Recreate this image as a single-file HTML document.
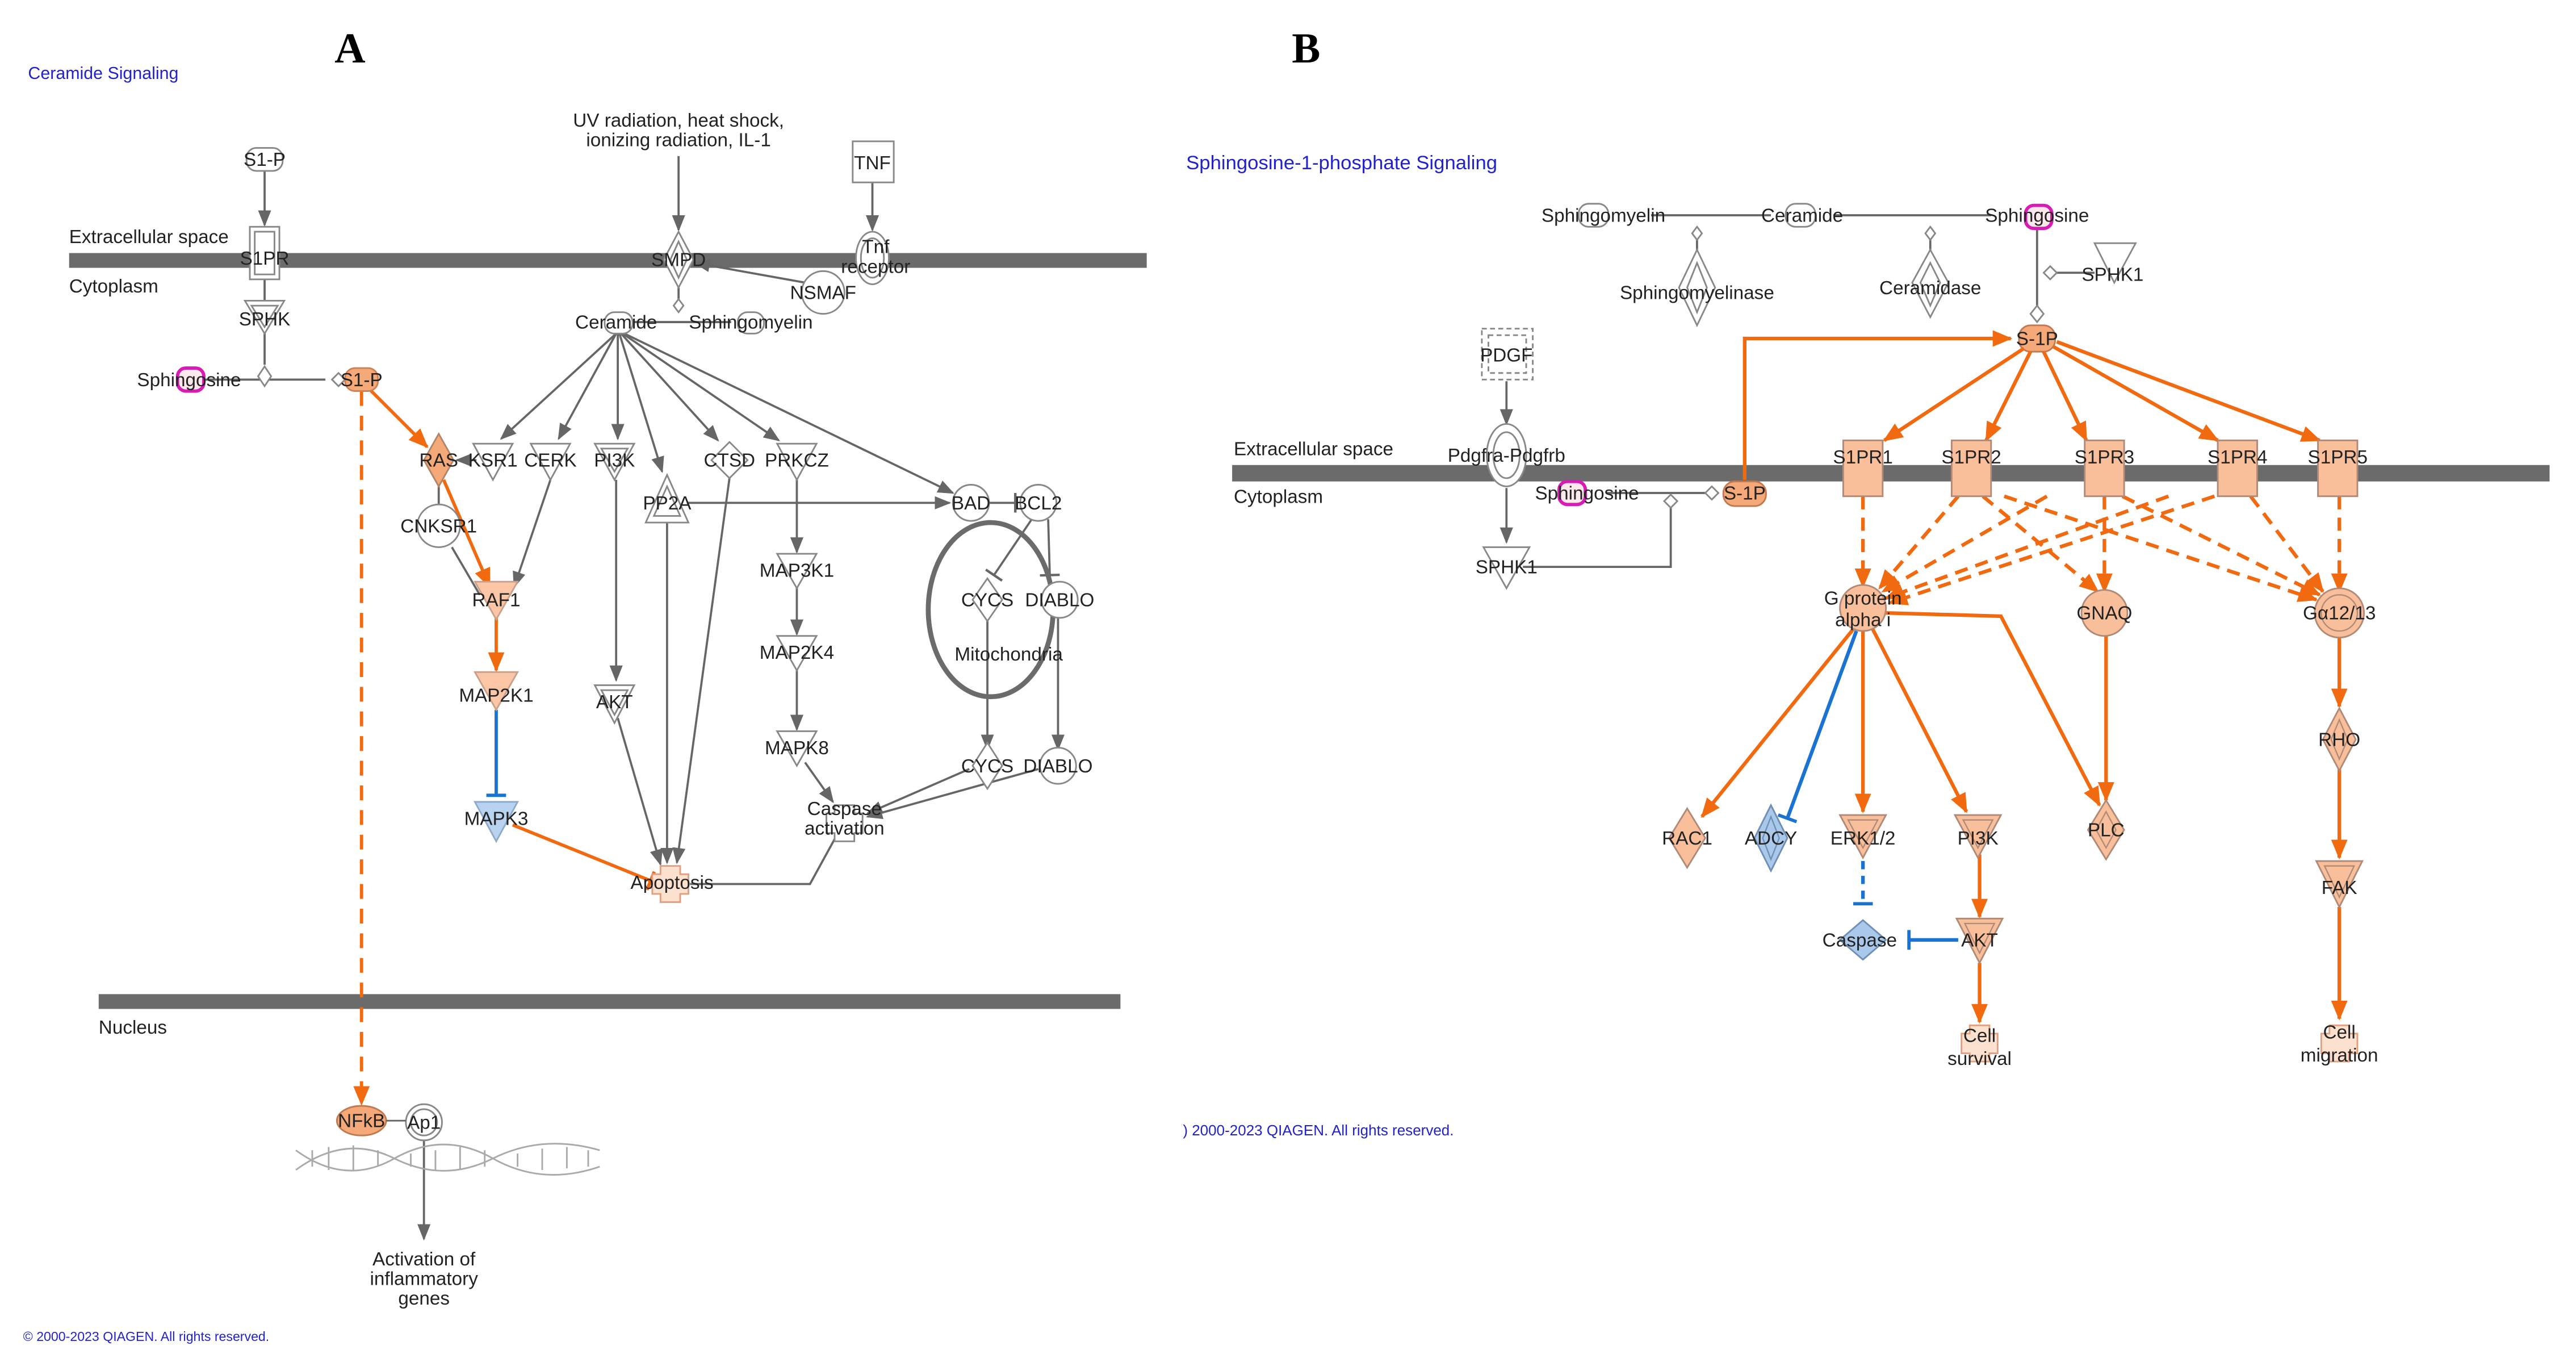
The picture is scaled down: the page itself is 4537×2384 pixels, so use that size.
<!DOCTYPE html>
<html><head><meta charset="utf-8"><style>
html,body{margin:0;padding:0;background:#fff;}
svg{display:block;}
text{font-family:"Liberation Sans",Arial,sans-serif;font-size:11.5px;fill:#222;text-anchor:middle;}
</style></head><body>
<svg width="4537" height="2384" viewBox="0 0 1568 824" xmlns="http://www.w3.org/2000/svg">
<defs>
<marker id="ag" markerWidth="10" markerHeight="10" refX="9" refY="5" orient="auto" markerUnits="userSpaceOnUse"><path d="M0,1 L10,5 L0,9 z" fill="#666"/></marker>
<marker id="ao" markerWidth="12" markerHeight="12" refX="11" refY="6" orient="auto" markerUnits="userSpaceOnUse"><path d="M0,1 L12,6 L0,11 z" fill="#f26a0f"/></marker>
<marker id="tb" markerWidth="4" markerHeight="12" refX="2" refY="6" orient="auto" markerUnits="userSpaceOnUse"><path d="M2,0 L2,12" stroke="#1a73d0" stroke-width="2"/></marker>
<marker id="tg" markerWidth="4" markerHeight="12" refX="2" refY="6" orient="auto" markerUnits="userSpaceOnUse"><path d="M2,0 L2,12" stroke="#666" stroke-width="1.5"/></marker>
<marker id="to" markerWidth="4" markerHeight="12" refX="2" refY="6" orient="auto" markerUnits="userSpaceOnUse"><path d="M2,0 L2,12" stroke="#f26a0f" stroke-width="2"/></marker>
</defs>
<rect width="1568" height="824" fill="#fff"/>

<!-- ===== Panel A ===== -->
<text x="213" y="38" style="font-family:'Liberation Serif',serif;font-size:26px;font-weight:bold;fill:#000">A</text>
<text x="17" y="48" style="text-anchor:start;font-size:10.5px;fill:#2222cc">Ceramide Signaling</text>
<rect x="42" y="154" width="656" height="9" fill="#6b6b6b"/>
<text x="42" y="148" style="text-anchor:start">Extracellular space</text>
<text x="42" y="178" style="text-anchor:start">Cytoplasm</text>
<rect x="60" y="605" width="622" height="9" fill="#6b6b6b"/>
<text x="60" y="629" style="text-anchor:start">Nucleus</text>

<g stroke="#666" stroke-width="1.3" fill="none">
<line x1="161" y1="104" x2="161" y2="137" marker-end="url(#ag)"/>
<line x1="161" y1="170" x2="161" y2="222"/>
<line x1="125" y1="231" x2="198" y2="231"/>
<line x1="413" y1="95" x2="413" y2="140" marker-end="url(#ag)"/>
<line x1="531" y1="110" x2="531" y2="140" marker-end="url(#ag)"/>
<line x1="490" y1="172" x2="423" y2="160" marker-end="url(#ag)"/>
<line x1="413" y1="175" x2="413" y2="182"/>
<line x1="385" y1="196" x2="445" y2="196"/>
<line x1="375" y1="203" x2="305" y2="267" marker-end="url(#ag)"/>
<line x1="375" y1="203" x2="340" y2="267" marker-end="url(#ag)"/>
<line x1="376" y1="203" x2="376" y2="267" marker-end="url(#ag)"/>
<line x1="377" y1="203" x2="403" y2="287" marker-end="url(#ag)"/>
<line x1="378" y1="203" x2="437" y2="268" marker-end="url(#ag)"/>
<line x1="379" y1="203" x2="474" y2="268" marker-end="url(#ag)"/>
<line x1="380" y1="203" x2="580" y2="300" marker-end="url(#ag)"/>
<line x1="290" y1="280" x2="278" y2="280" marker-end="url(#ag)"/>
<line x1="267" y1="296" x2="267" y2="308"/>
<line x1="275" y1="333" x2="292" y2="362"/>
<line x1="335" y1="292" x2="313" y2="357" marker-end="url(#ag)"/>
<line x1="375" y1="292" x2="375" y2="414" marker-end="url(#ag)"/>
<line x1="376" y1="437" x2="402" y2="526" marker-end="url(#ag)"/>
<line x1="406" y1="315" x2="406" y2="525" marker-end="url(#ag)"/>
<line x1="418" y1="306" x2="578" y2="306" marker-end="url(#ag)"/>
<line x1="444" y1="291" x2="412" y2="525" marker-end="url(#ag)"/>
<line x1="485" y1="291" x2="485" y2="336" marker-end="url(#ag)"/>
<line x1="485" y1="357" x2="485" y2="386" marker-end="url(#ag)"/>
<line x1="485" y1="408" x2="485" y2="444" marker-end="url(#ag)"/>
<line x1="490" y1="464" x2="507" y2="488" marker-end="url(#ag)"/>
<line x1="600" y1="306" x2="618" y2="306" marker-end="url(#tg)"/>
<line x1="628" y1="316" x2="605" y2="350" marker-end="url(#tg)"/>
<line x1="638" y1="316" x2="639" y2="350" marker-end="url(#tg)"/>
<line x1="601" y1="375" x2="601" y2="456" marker-end="url(#ag)"/>
<line x1="644" y1="375" x2="644" y2="456" marker-end="url(#ag)"/>
<line x1="590" y1="468" x2="528" y2="495" marker-end="url(#ag)"/>
<line x1="632" y1="468" x2="528" y2="497" marker-end="url(#ag)"/>
<path d="M510,507 L493,538 L420,538"/>
<line x1="258" y1="690" x2="258" y2="754" marker-end="url(#ag)"/>
</g>
<ellipse cx="603" cy="371" rx="38" ry="53" fill="none" stroke="#6b6b6b" stroke-width="3"/>
<g stroke="#f26a0f" stroke-width="2" fill="none">
<line x1="224" y1="236" x2="260" y2="272" marker-end="url(#ao)"/>
<line x1="270" y1="292" x2="298" y2="357" marker-end="url(#ao)"/>
<line x1="302" y1="372" x2="302" y2="408" marker-end="url(#ao)"/>
<line x1="312" y1="502" x2="396" y2="536" marker-end="url(#to)"/>
<line x1="220" y1="238" x2="220" y2="672" stroke-dasharray="9,6" marker-end="url(#ao)"/>
</g>
<line x1="302" y1="432" x2="302" y2="484" stroke="#1a73d0" stroke-width="2" marker-end="url(#tb)"/>

<!-- nodes A -->
<g stroke="#888" stroke-width="1" fill="#fff">
<rect x="150" y="90" width="22" height="14" rx="6"/>
<rect x="152" y="138" width="18" height="32"/><rect x="155" y="141" width="12" height="26"/>
<path d="M149,183 L173,183 L161,203 z"/><path d="M153,186 L169,186 L161,199 z"/>
<path d="M161,223 L165,229 L161,235 L157,229 z"/>
<path d="M202,231 L206,227 L210,231 L206,235 z"/>
<rect x="519" y="86" width="25" height="25"/>
<path d="M413,141 L422,158 L413,175 L404,158 z"/><path d="M413,147 L418,158 L413,169 L408,158 z"/>
<ellipse cx="531" cy="157" rx="10" ry="16"/><ellipse cx="531" cy="157" rx="7" ry="12"/>
<circle cx="501" cy="178" r="13"/>
<path d="M413,182 L416,186 L413,190 L410,186 z"/>
<rect x="368" y="190" width="17" height="13" rx="6"/>
<rect x="449" y="190" width="16" height="13" rx="6"/>
<path d="M288,270 L312,270 L300,292 z"/>
<path d="M323,270 L347,270 L335,292 z"/>
<path d="M362,270 L386,270 L374,292 z"/><path d="M366,273 L382,273 L374,287 z"/>
<path d="M406,289 L419,318 L393,318 z"/><path d="M406,296 L414,314 L398,314 z"/>
<path d="M444,269 L455,280 L444,291 L433,280 z"/>
<path d="M473,270 L497,270 L485,292 z"/>
<circle cx="267" cy="320" r="13"/>
<path d="M473,337 L497,337 L485,358 z"/>
<path d="M473,387 L497,387 L485,408 z"/>
<path d="M473,445 L497,445 L485,466 z"/>
<path d="M362,417 L386,417 L374,440 z"/><path d="M366,420 L382,420 L374,435 z"/>
<circle cx="591" cy="306" r="11"/><circle cx="632" cy="306" r="11"/>
<path d="M601,352 L610,365 L601,378 L592,365 z"/>
<circle cx="645" cy="365" r="11"/>
<path d="M601,452 L610,466 L601,480 L592,466 z"/>
<circle cx="644" cy="466" r="11"/>
<path d="M508,490 h12 v5 h5 v12 h-5 v5 h-12 v-5 h-5 v-12 h5 z"/>
<circle cx="258" cy="683" r="11"/><circle cx="258" cy="683" r="8"/>
</g>
<rect x="108" y="224" width="16" height="14" rx="5" fill="#fde8ec" stroke="#d81bb5" stroke-width="2"/>
<rect x="210" y="224" width="20" height="14" rx="6" fill="#f5a878" stroke="#d08050"/>
<path d="M267,264 L276,280 L267,296 L258,280 z" fill="#f5a878" stroke="#b0866a"/>
<path d="M289,354 L315,354 L302,377 z" fill="#fac6a6" stroke="#c9a08a"/>
<path d="M289,409 L315,409 L302,432 z" fill="#fac6a6" stroke="#c9a08a"/>
<path d="M289,488 L315,488 L302,512 z" fill="#b8d3f0" stroke="#8fa9c8"/>
<path d="M402,527 h12 v5 h5 v12 h-5 v5 h-12 v-5 h-5 v-12 h5 z" fill="#fde1cf" stroke="#e0a080"/>
<ellipse cx="220" cy="682" rx="15" ry="9" fill="#f5a878" stroke="#c07a50"/>
<line x1="235" y1="682" x2="247" y2="682" stroke="#666"/>
<g stroke="#aaa" stroke-width="1" fill="none">
<path d="M180,712 Q210,690 240,705 T300,705 T365,700"/>
<path d="M180,700 Q210,722 240,705 T300,705 T365,710"/>
<path d="M190,700 v10 M200,698 v14 M215,697 v15 M230,700 v10 M250,702 v8 M265,700 v12 M280,698 v14 M295,700 v10 M315,702 v8 M330,699 v13 M345,698 v13 M358,700 v10"/>
</g>

<g>
<text x="161" y="101">S1-P</text>
<text x="161" y="161">S1PR</text>
<text x="161" y="198">SPHK</text>
<text x="115" y="235">Sphingosine</text>
<text x="220" y="235">S1-P</text>
<text x="413" y="77">UV radiation, heat shock,</text>
<text x="413" y="89">ionizing radiation, IL-1</text>
<text x="531" y="103">TNF</text>
<text x="413" y="162">SMPD</text>
<text x="533" y="154">Tnf</text>
<text x="533" y="166">receptor</text>
<text x="501" y="182">NSMAF</text>
<text x="375" y="200">Ceramide</text>
<text x="457" y="200">Sphingomyelin</text>
<text x="267" y="284">RAS</text>
<text x="300" y="284">KSR1</text>
<text x="335" y="284">CERK</text>
<text x="374" y="284">PI3K</text>
<text x="406" y="310">PP2A</text>
<text x="444" y="284">CTSD</text>
<text x="485" y="284">PRKCZ</text>
<text x="267" y="324">CNKSR1</text>
<text x="302" y="369">RAF1</text>
<text x="302" y="427">MAP2K1</text>
<text x="302" y="502">MAPK3</text>
<text x="374" y="431">AKT</text>
<text x="485" y="351">MAP3K1</text>
<text x="485" y="401">MAP2K4</text>
<text x="485" y="459">MAPK8</text>
<text x="514" y="496">Caspase</text>
<text x="514" y="508">activation</text>
<text x="409" y="541">Apoptosis</text>
<text x="591" y="310">BAD</text>
<text x="632" y="310">BCL2</text>
<text x="601" y="369">CYCS</text>
<text x="645" y="369">DIABLO</text>
<text x="614" y="402">Mitochondria</text>
<text x="601" y="470">CYCS</text>
<text x="644" y="470">DIABLO</text>
<text x="220" y="686">NFkB</text>
<text x="258" y="687">Ap1</text>
<text x="258" y="770">Activation of</text>
<text x="258" y="782">inflammatory</text>
<text x="258" y="794">genes</text>
</g>
<text x="14" y="816" style="text-anchor:start;font-size:8px;fill:#2222cc">© 2000-2023 QIAGEN. All rights reserved.</text>

<!-- ===== Panel B ===== -->
<text x="795" y="38" style="font-family:'Liberation Serif',serif;font-size:26px;font-weight:bold;fill:#000">B</text>
<text x="722" y="103" style="text-anchor:start;font-size:12px;fill:#2222cc">Sphingosine-1-phosphate Signaling</text>
<rect x="750" y="283" width="802" height="10" fill="#6b6b6b"/>
<text x="751" y="277" style="text-anchor:start">Extracellular space</text>
<text x="751" y="306" style="text-anchor:start">Cytoplasm</text>

<g stroke="#666" stroke-width="1.3" fill="none">
<line x1="1005" y1="131" x2="1078" y2="131"/>
<line x1="1116" y1="131" x2="1212" y2="131"/>
<line x1="1033" y1="146" x2="1033" y2="152"/>
<line x1="1175" y1="146" x2="1175" y2="152"/>
<line x1="1240" y1="139" x2="1240" y2="190"/>
<line x1="1248" y1="166" x2="1275" y2="166"/>
<line x1="917" y1="232" x2="917" y2="258" marker-end="url(#ag)"/>
<line x1="917" y1="297" x2="917" y2="330" marker-end="url(#ag)"/>
<path d="M927,345 L1017,345 L1017,309"/>
<line x1="978" y1="300" x2="1038" y2="300"/>
</g>
<g stroke="#888" stroke-width="1" fill="#fff">
<rect x="961" y="124" width="18" height="14" rx="6"/>
<rect x="1087" y="124" width="18" height="14" rx="6"/>
<path d="M1033,138 L1036,142 L1033,146 L1030,142 z"/>
<path d="M1175,138 L1178,142 L1175,146 L1172,142 z"/>
<path d="M1033,152 L1044,175 L1033,198 L1022,175 z"/><path d="M1033,160 L1039,175 L1033,190 L1027,175 z"/>
<path d="M1175,152 L1186,172 L1175,193 L1164,172 z"/><path d="M1175,160 L1181,172 L1175,186 L1169,172 z"/>
<path d="M1275,148 L1300,148 L1287,172 z"/>
<path d="M1244,166 L1248,162 L1252,166 L1248,170 z"/>
<path d="M1240,186 L1244,191 L1240,196 L1236,191 z"/>
<rect x="902" y="200" width="31" height="31" stroke-dasharray="3,2"/><rect x="906" y="204" width="23" height="23" stroke-dasharray="3,2"/>
<ellipse cx="917" cy="277" rx="12" ry="19"/><ellipse cx="917" cy="277" rx="8" ry="14"/>
<path d="M903,333 L931,333 L917,358 z"/>
<path d="M1017,301 L1021,305 L1017,309 L1013,305 z"/>
<path d="M1038,300 L1042,296 L1046,300 L1042,304 z"/>
</g>
<rect x="1233" y="125" width="16" height="14" rx="5" fill="#fde8ec" stroke="#d81bb5" stroke-width="2"/>
<rect x="949" y="293" width="16" height="14" rx="5" fill="#fde8ec" stroke="#d81bb5" stroke-width="2"/>
<rect x="1049" y="293" width="26" height="15" rx="7" fill="#f5a878" stroke="#c07a50"/>
<rect x="1229" y="198" width="22" height="16" rx="7" fill="#f5a878" stroke="#c07a50"/>

<g stroke="#f26a0f" stroke-width="2.2" fill="none">
<path d="M1062,292 L1062,206 L1224,206" marker-end="url(#ao)"/>
<line x1="1232" y1="212" x2="1147" y2="268" marker-end="url(#ao)"/>
<line x1="1236" y1="214" x2="1209" y2="268" marker-end="url(#ao)"/>
<line x1="1244" y1="214" x2="1270" y2="268" marker-end="url(#ao)"/>
<line x1="1250" y1="211" x2="1350" y2="268" marker-end="url(#ao)"/>
<line x1="1252" y1="208" x2="1412" y2="268" marker-end="url(#ao)"/>
</g>
<g stroke="#f26a0f" stroke-width="2.2" fill="none" stroke-dasharray="8,5">
<line x1="1134" y1="302" x2="1134" y2="357" marker-end="url(#ao)"/>
<line x1="1192" y1="302" x2="1144" y2="358" marker-end="url(#ao)"/>
<line x1="1207" y1="302" x2="1277" y2="360" marker-end="url(#ao)"/>
<line x1="1220" y1="302" x2="1410" y2="365" marker-end="url(#ao)"/>
<line x1="1246" y1="302" x2="1146" y2="360" marker-end="url(#ao)"/>
<line x1="1281" y1="302" x2="1281" y2="360" marker-end="url(#ao)"/>
<line x1="1292" y1="302" x2="1412" y2="362" marker-end="url(#ao)"/>
<line x1="1320" y1="302" x2="1148" y2="364" marker-end="url(#ao)"/>
<line x1="1348" y1="302" x2="1150" y2="367" marker-end="url(#ao)"/>
<line x1="1370" y1="302" x2="1414" y2="360" marker-end="url(#ao)"/>
<line x1="1424" y1="302" x2="1424" y2="360" marker-end="url(#ao)"/>
</g>
<g stroke="#f26a0f" stroke-width="2.2" fill="none">
<line x1="1128" y1="383" x2="1036" y2="497" marker-end="url(#ao)"/>
<line x1="1134" y1="384" x2="1134" y2="494" marker-end="url(#ao)"/>
<line x1="1140" y1="383" x2="1197" y2="494" marker-end="url(#ao)"/>
<path d="M1148,373 L1218,375 L1278,490" marker-end="url(#ao)"/>
<line x1="1282" y1="386" x2="1282" y2="487" marker-end="url(#ao)"/>
<line x1="1424" y1="388" x2="1424" y2="430" marker-end="url(#ao)"/>
<line x1="1424" y1="468" x2="1424" y2="522" marker-end="url(#ao)"/>
<line x1="1424" y1="552" x2="1424" y2="620" marker-end="url(#ao)"/>
<line x1="1205" y1="520" x2="1205" y2="558" marker-end="url(#ao)"/>
<line x1="1205" y1="586" x2="1205" y2="622" marker-end="url(#ao)"/>
</g>
<line x1="1130" y1="384" x2="1088" y2="498" stroke="#1a73d0" stroke-width="2.2" marker-end="url(#tb)"/>
<line x1="1134" y1="524" x2="1134" y2="550" stroke="#1a73d0" stroke-width="2.2" stroke-dasharray="5,4" marker-end="url(#tb)"/>
<line x1="1192" y1="572" x2="1162" y2="572" stroke="#1a73d0" stroke-width="2.2" marker-end="url(#tb)"/>

<g fill="#f9bf9a" stroke="#b08a78" stroke-width="1">
<rect x="1122" y="268" width="24" height="34"/>
<rect x="1188" y="268" width="24" height="34"/>
<rect x="1269" y="268" width="24" height="34"/>
<rect x="1350" y="268" width="24" height="34"/>
<rect x="1411" y="268" width="24" height="34"/>
<circle cx="1134" cy="370" r="14"/>
<circle cx="1281" cy="373" r="14"/>
<circle cx="1424" cy="373" r="15"/>
<path d="M1027,492 L1038,510 L1027,528 L1016,510 z"/>
<path d="M1282,487 L1293,505 L1282,523 L1271,505 z"/>
<path d="M1424,431 L1434,450 L1424,469 L1414,450 z"/>
<path d="M1120,496 L1148,496 L1134,522 z"/>
<path d="M1190,496 L1218,496 L1204,522 z"/>
<path d="M1191,559 L1219,559 L1205,586 z"/>
<path d="M1410,524 L1438,524 L1424,552 z"/>
</g>
<g fill="none" stroke="#b08a78" stroke-width="0.8">
<circle cx="1424" cy="373" r="11"/>
<path d="M1282,494 L1288,505 L1282,516 L1276,505 z"/>
<path d="M1424,438 L1429,450 L1424,462 L1419,450 z"/>
<path d="M1125,499 L1143,499 L1134,516 z"/><path d="M1195,499 L1213,499 L1204,516 z"/>
<path d="M1196,562 L1214,562 L1205,580 z"/><path d="M1415,527 L1433,527 L1424,546 z"/>
</g>
<path d="M1078,490 L1088,510 L1078,530 L1068,510 z" fill="#a9c8ea" stroke="#6f8fb5"/>
<path d="M1078,497 L1083,510 L1078,523 L1073,510 z" fill="none" stroke="#6f8fb5" stroke-width="0.8"/>
<path d="M1134,560 L1148,572 L1134,584 L1120,572 z" fill="#a9c8ea" stroke="#6f8fb5"/>
<path d="M1199,624 h12 v5 h5 v12 h-5 v5 h-12 v-5 h-5 v-12 h5 z" fill="#fde1cf" stroke="#e0a080"/>
<path d="M1418,624 h12 v5 h5 v12 h-5 v5 h-12 v-5 h-5 v-12 h5 z" fill="#fde1cf" stroke="#e0a080"/>

<g>
<text x="976" y="135">Sphingomyelin</text>
<text x="1097" y="135">Ceramide</text>
<text x="1240" y="135">Sphingosine</text>
<text x="1033" y="182">Sphingomyelinase</text>
<text x="1175" y="179">Ceramidase</text>
<text x="1286" y="171">SPHK1</text>
<text x="1240" y="210">S-1P</text>
<text x="917" y="220">PDGF</text>
<text x="917" y="281">Pdgfra-Pdgfrb</text>
<text x="966" y="304">Sphingosine</text>
<text x="1062" y="304">S-1P</text>
<text x="917" y="349">SPHK1</text>
<text x="1134" y="282">S1PR1</text>
<text x="1200" y="282">S1PR2</text>
<text x="1281" y="282">S1PR3</text>
<text x="1362" y="282">S1PR4</text>
<text x="1423" y="282">S1PR5</text>
<text x="1134" y="368">G protein</text>
<text x="1134" y="381">alpha i</text>
<text x="1281" y="377">GNAQ</text>
<text x="1424" y="377">Gα12/13</text>
<text x="1424" y="454">RHO</text>
<text x="1027" y="514">RAC1</text>
<text x="1078" y="514">ADCY</text>
<text x="1134" y="514">ERK1/2</text>
<text x="1204" y="514">PI3K</text>
<text x="1282" y="509">PLC</text>
<text x="1424" y="544">FAK</text>
<text x="1132" y="576">Caspase</text>
<text x="1205" y="576">AKT</text>
<text x="1205" y="634">Cell</text>
<text x="1205" y="648">survival</text>
<text x="1424" y="632">Cell</text>
<text x="1424" y="646">migration</text>
</g>
<text x="720" y="691" style="text-anchor:start;font-size:9px;fill:#2222cc">) 2000-2023 QIAGEN. All rights reserved.</text>
</svg>
</body></html>
